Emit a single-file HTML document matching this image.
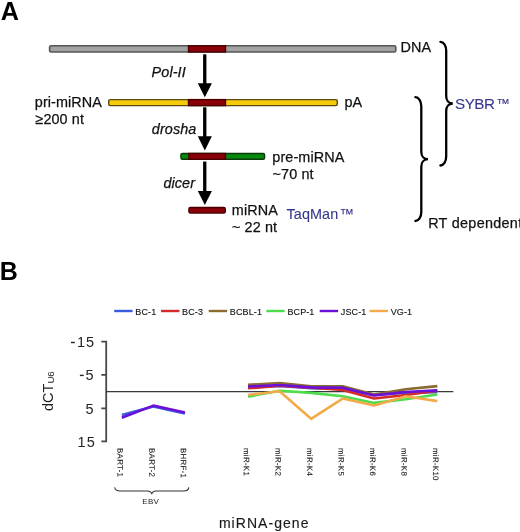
<!DOCTYPE html>
<html><head><meta charset="utf-8"><style>
html,body{margin:0;padding:0;background:#fff;}
svg{display:block;will-change:transform;}
text{font-family:"Liberation Sans",sans-serif;}
.t14{font-size:14.4px;fill:#111;stroke:#111;stroke-width:0.25px;letter-spacing:0.1px}
.it{font-style:italic;}
.blue{fill:#36368e;stroke:#36368e;stroke-width:0.1px}
.lg{font-size:9px;fill:#111;stroke:#111;stroke-width:0.12px;letter-spacing:0.12px}
.xl{font-size:7.9px;letter-spacing:0.3px;fill:#1a1a1a;stroke:#1a1a1a;stroke-width:0.1px}
.ax{font-size:14.5px;fill:#222;letter-spacing:1px}
</style></head><body>
<svg width="520" height="532" viewBox="0 0 520 532">
  <text x="0.7" y="19.5" style="font-size:25.2px;font-weight:bold;fill:#000">A</text>
  <text x="-0.3" y="280" style="font-size:25px;font-weight:bold;fill:#000">B</text>
  <!-- bars -->
  <rect x="49.6" y="45.8" width="346.2" height="6.2" rx="1.5" fill="#a2a2a2" stroke="#555" stroke-width="1.6"/>
  <rect x="188.5" y="45.8" width="37" height="6.2" fill="#8a0008" stroke="#4a0000" stroke-width="1.4"/>
  <rect x="108.7" y="99.6" width="228.6" height="6.0" rx="1.5" fill="#f7cb0c" stroke="#5a4a10" stroke-width="1.4"/>
  <rect x="188.5" y="99.6" width="37" height="6.0" fill="#8a0008" stroke="#4a0000" stroke-width="1.4"/>
  <rect x="180.9" y="153.5" width="83.7" height="5.8" rx="1.5" fill="#068a0e" stroke="#0a3a0a" stroke-width="1.4"/>
  <rect x="188.9" y="153.5" width="36.6" height="5.8" fill="#8a0008" stroke="#4a0000" stroke-width="1.4"/>
  <rect x="188.9" y="207.5" width="36.4" height="5.6" rx="1.5" fill="#8a0008" stroke="#4a0000" stroke-width="1.4"/>
  <!-- arrows -->
  <rect x="203.1" y="54.3" width="3.3" height="29.9" fill="#000"/><polygon points="197.8,83.2 211.9,83.2 204.8,97.3" fill="#000"/>
  <rect x="203.1" y="107.3" width="3.3" height="29.9" fill="#000"/><polygon points="197.8,136.2 211.9,136.2 204.8,150.5" fill="#000"/>
  <rect x="203.1" y="161.6" width="3.3" height="30.4" fill="#000"/><polygon points="197.8,191 211.9,191 204.8,204.9" fill="#000"/>
  <!-- texts -->
  <text x="400.4" y="51.5" class="t14">DNA</text>
  <text x="151.6" y="77.1" class="t14 it">Pol-II</text>
  <text x="34.8" y="107.3" class="t14">pri-miRNA</text>
  <text x="35.4" y="123.7" class="t14">≥200 nt</text>
  <text x="344.5" y="106.9" class="t14">pA</text>
  <text x="151.8" y="133.7" class="t14 it">drosha</text>
  <text x="272.3" y="162.1" class="t14">pre-miRNA</text>
  <text x="272.6" y="179" class="t14">~70 nt</text>
  <text x="163.4" y="187.9" class="t14 it">dicer</text>
  <text x="231.8" y="214.6" class="t14">miRNA</text>
  <text x="232.0" y="232" class="t14">~ 22 nt</text>
  <text x="286.5" y="219.4" class="t14 blue">TaqMan<tspan dx="1.2">™</tspan></text>
  <text x="455.0" y="108.6" class="t14 blue" style="font-size:15.2px;letter-spacing:-0.5px">SYBR<tspan dx="2.2" dy="-0.6" style="font-size:13.2px">™</tspan></text>
  <text x="428.2" y="228" class="t14" style="letter-spacing:0.3px">RT dependent</text>
  <path d="M440.4,41.8 C443.59,41.8 446.2,45.85 446.2,50.8 L446.2,96.0 C446.2,100.12 448.51,103.5 452.8,103.5 C448.51,103.5 446.2,106.88 446.2,111.0 L446.2,156.5 C446.2,161.45 443.59,165.5 440.4,165.5" fill="none" stroke="#000" stroke-width="2.3" stroke-linecap="round" stroke-linejoin="miter"/>
  <path d="M415.4,97.2 C418.64,97.2 421.3,101.25 421.3,106.2 L421.3,151.7 C421.3,155.82 423.64,159.2 428.0,159.2 C423.64,159.2 421.3,162.57 421.3,166.7 L421.3,212 C421.3,216.95 418.64,221 415.4,221" fill="none" stroke="#000" stroke-width="2.3" stroke-linecap="round" stroke-linejoin="miter"/>
  <!-- legend -->
  <line x1="114.2" y1="311" x2="132.6" y2="311" stroke="#3a5be0" stroke-width="2.4"/><text x="135.3" y="314.8" class="lg">BC-1</text>
  <line x1="161" y1="311" x2="179.4" y2="311" stroke="#d42a2a" stroke-width="2.4"/><text x="182.1" y="314.8" class="lg">BC-3</text>
  <line x1="208.7" y1="311" x2="227.1" y2="311" stroke="#8b6b2e" stroke-width="2.4"/><text x="229.8" y="314.8" class="lg">BCBL-1</text>
  <line x1="266.3" y1="311" x2="284.7" y2="311" stroke="#4cdc4c" stroke-width="2.4"/><text x="287.4" y="314.8" class="lg">BCP-1</text>
  <line x1="319.7" y1="311" x2="338.1" y2="311" stroke="#6a10d8" stroke-width="2.4"/><text x="340.8" y="314.8" class="lg">JSC-1</text>
  <line x1="369.6" y1="311" x2="388.0" y2="311" stroke="#f3ab4a" stroke-width="2.4"/><text x="390.7" y="314.8" class="lg">VG-1</text>
  <!-- axes -->
  <path d="M101.3,341.6 H106.2 V441.3 H101.3 M101.3,374.8 H106.2 M101.3,408.3 H106.2" fill="none" stroke="#484848" stroke-width="1.8"/>
  <line x1="106" y1="391.6" x2="453.3" y2="391.6" stroke="#3a3a3a" stroke-width="1.3"/>
  <rect x="71" y="341.8" width="3.8" height="1.4" fill="#222"/>
  <text x="77" y="347.2" class="ax">15</text>
  <rect x="79.9" y="374.7" width="3.8" height="1.4" fill="#222"/>
  <text x="85.6" y="380.3" class="ax">5</text>
  <text x="85.6" y="413.6" class="ax">5</text>
  <text x="77.6" y="446.7" class="ax">15</text>
  <text transform="translate(53.2,411) rotate(-90)" style="font-size:14.5px;fill:#222">dCT<tspan style="font-size:9.9px;letter-spacing:-0.4px" dy="0.5">U6</tspan></text>
  <!-- data -->
  <g fill="none" stroke-width="2.6" stroke-linejoin="round" stroke-linecap="butt">
  <polyline points="121.8,415.0 153.3,406.6 184.9,413.6" stroke="#3a5be0"/>
  <polyline points="248.0,387.5 279.6,386.0 311.1,388.2 342.6,389.0 374.2,395.0 405.8,392.6 437.3,392.3" stroke="#3a5be0"/>
  <polyline points="248.0,388.3 279.6,385.8 311.1,387.6 342.6,390.0 374.2,398.5 405.8,395.0 437.3,390.6" stroke="#d42a2a"/>
  <polyline points="248.0,384.8 279.6,383.0 311.1,386.2 342.6,386.2 374.2,394.5 405.8,389.3 437.3,386.1" stroke="#8b6b2e"/>
  <polyline points="248.0,396.6 279.6,390.8 311.1,392.9 342.6,396.3 374.2,402.9 405.8,399.2 437.3,394.5" stroke="#4cdc4c"/>
  <polyline points="121.8,417.7 153.3,405.6 184.9,412.4" stroke="#6a10d8"/>
  <polyline points="248.0,386.5 279.6,385.0 311.1,387.4 342.6,387.8 374.2,395.4 405.8,392.0 437.3,390.4" stroke="#6a10d8"/>
  <polyline points="248.0,395.0 279.6,391.2 311.1,418.8 342.6,398.6 374.2,405.6 405.8,396.2 437.3,401.1" stroke="#f3ab4a"/>
  </g>
  <text transform="translate(117.6,448.0) rotate(89.95)" class="xl">BART-1</text>
  <text transform="translate(149.2,448.0) rotate(89.95)" class="xl">BART-2</text>
  <text transform="translate(180.7,448.0) rotate(89.95)" class="xl">BHRF-1</text>
  <text transform="translate(243.8,448.0) rotate(89.95)" class="xl">miR-K1</text>
  <text transform="translate(275.4,448.0) rotate(89.95)" class="xl">miR-K2</text>
  <text transform="translate(306.9,448.0) rotate(89.95)" class="xl">miR-K4</text>
  <text transform="translate(338.4,448.0) rotate(89.95)" class="xl">miR-K5</text>
  <text transform="translate(370.0,448.0) rotate(89.95)" class="xl">miR-K6</text>
  <text transform="translate(401.6,448.0) rotate(89.95)" class="xl">miR-K8</text>
  <text transform="translate(433.1,448.0) rotate(89.95)" class="xl">miR-K10</text>
  <path d="M114.6,487.4 Q115.5,491 120,491 L147,491 Q151.6,491 151.8,494.3 Q152,491 156.5,491 L184,491 Q188.5,491 188.8,487.4" fill="none" stroke="#333" stroke-width="1.1"/>
  <text x="150.7" y="503.5" text-anchor="middle" style="font-size:8px;fill:#1a1a1a;letter-spacing:0.25px">EBV</text>
  <text x="264.2" y="528" text-anchor="middle" style="font-size:14px;fill:#1a1a1a;stroke:#1a1a1a;stroke-width:0.15px;letter-spacing:1.05px">miRNA-gene</text>
</svg>
</body></html>
